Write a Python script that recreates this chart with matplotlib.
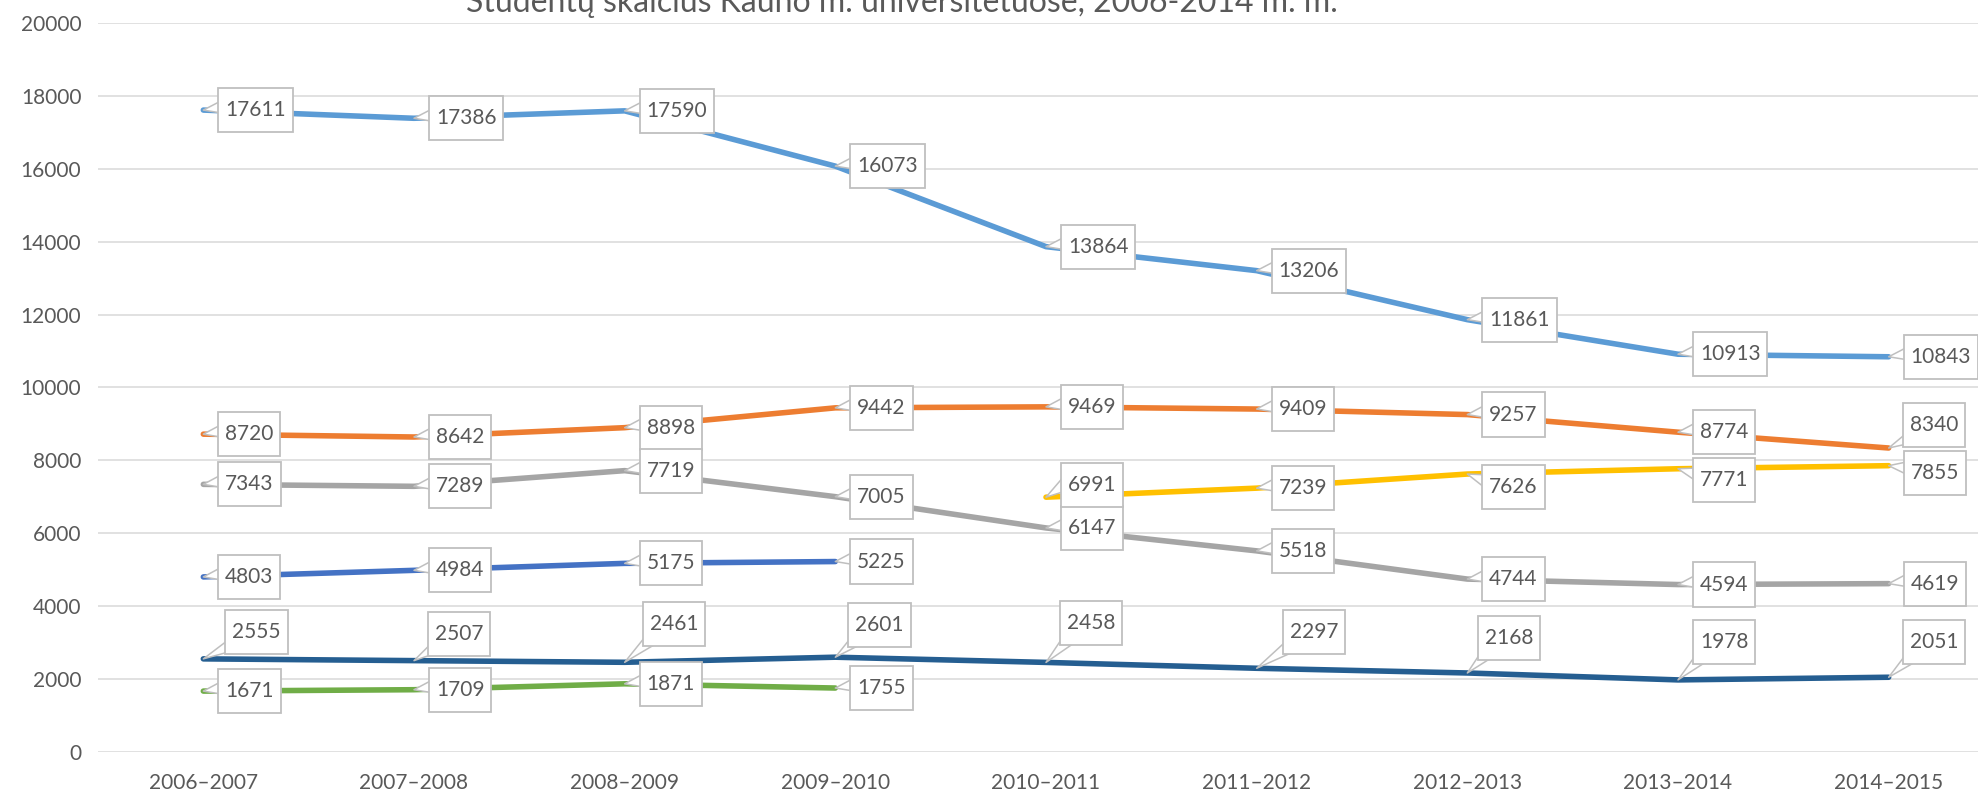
import numpy as np
import matplotlib
matplotlib.use('Agg')
import matplotlib.pyplot as plt
from matplotlib.path import Path

plt.rcParams['font.family'] = ['Lato', 'DejaVu Sans']

# Data
years = ['2006–2007', '2007–2008', '2008–2009', '2009–2010', '2010–2011',
         '2011–2012', '2012–2013', '2013–2014', '2014–2015']

s_lightblue = [17611, 17386, 17590, 16073, 13864, 13206, 11861, 10913, 10843]
s_orange = [8720, 8642, 8898, 9442, 9469, 9409, 9257, 8774, 8340]
s_gray = [7343, 7289, 7719, 7005, 6147, 5518, 4744, 4594, 4619]
s_gold = [None, None, None, None, 6991, 7239, 7626, 7771, 7855]
s_blue = [4803, 4984, 5175, 5225, None, None, None, None, None]
s_green = [1671, 1709, 1871, 1755, None, None, None, None, None]
s_darkblue = [2555, 2507, 2461, 2601, 2458, 2297, 2168, 1978, 2051]

title = 'Studentų skaičius Kauno m. universitetuose, 2006-2014 m. m.'

# label box placement (gap left of box, box centre offset) in pixels
R = (15, 0)
pos_lightblue = [R] * 9
pos_orange = [R] * 8 + [(14, 23)]
pos_gray = [R] * 9
pos_gold = [None] * 4 + [(15, 12), R, (15, -13), (15, -11), (15, -7)]
pos_blue = [R] * 4 + [None] * 5
pos_green = [R] * 4 + [None] * 5
pos_darkblue = [(22, 27), (14, 27), (18, 38), (13, 32), (14, 39),
                (26, 36), (11, 35), (15, 38), (14, 35)]

series = [
    (s_lightblue, '#5B9BD5', pos_lightblue),
    (s_orange, '#ED7D31', pos_orange),
    (s_gray, '#A5A5A5', pos_gray),
    (s_gold, '#FFC000', pos_gold),
    (s_blue, '#4472C4', pos_blue),
    (s_green, '#70AD47', pos_green),
    (s_darkblue, '#255E91', pos_darkblue),
]

txt_color = '#595959'
lbl_size = 15
padx, pady = 0.33, 0.58


def callout_box(x0, y0, width, height, mutation_size):
    # plain rectangle with more room above/below than at the sides
    px = padx * mutation_size
    py = pady * mutation_size
    x0, y0 = x0 - px, y0 - py
    x1, y1 = x0 + width + 2 * px, y0 + height + 2 * py
    return Path([(x0, y0), (x1, y0), (x1, y1), (x0, y1), (x0, y0)],
                closed=True)


fig = plt.figure(figsize=(19.78, 7.93), dpi=100)
# plot area runs a little past the right edge, like the original
ax = fig.add_axes([98 / 1978, 41 / 793, 1896 / 1978, 729 / 793])

x = np.arange(len(years))
for vals, color, positions in series:
    y = np.array([np.nan if v is None else v for v in vals], dtype=float)
    ax.plot(x, y, color=color, lw=4.0, solid_capstyle='round',
            solid_joinstyle='round', zorder=3)

# callout labels
padx_px = padx * lbl_size * 100 / 72
for vals, color, positions in series:
    for i, v in enumerate(vals):
        if v is None:
            continue
        dx, dy = positions[i]
        if dy > 20:
            relpos = (0.2, 0.1)
        else:
            relpos = (0.05, 0.7)
        ax.annotate(str(v), xy=(i, v), xycoords='data',
                    xytext=(dx + padx_px, dy), textcoords='offset pixels',
                    ha='left', va='center', fontsize=lbl_size, color=txt_color,
                    bbox=dict(boxstyle=callout_box, fc='white',
                              ec='#BFBFBF', lw=1.3),
                    arrowprops=dict(arrowstyle='wedge,tail_width=0.6',
                                    fc='white', ec='#BFBFBF', lw=1.1,
                                    relpos=relpos, shrinkA=0, shrinkB=0,
                                    patchA=None, mutation_scale=20),
                    zorder=5)

ax.set_xlim(-0.5, len(years) - 0.5)
ax.set_ylim(0, 20000)
ax.set_yticks(np.arange(0, 20001, 2000))
ax.set_xticks(x)
ax.set_xticklabels(years)
ax.grid(axis='y', color='#D9D9D9', lw=1.1, zorder=0)
ax.set_axisbelow(True)
for sp in ax.spines.values():
    sp.set_visible(False)
ax.tick_params(axis='both', length=0, labelsize=15, colors=txt_color)
ax.tick_params(axis='x', pad=15)
ax.tick_params(axis='y', pad=12)

fig.text(902 / 1978, 1 - 12 / 793, title, ha='center', va='baseline',
         fontsize=23, color=txt_color)

plt.savefig('out.png', dpi=100)
